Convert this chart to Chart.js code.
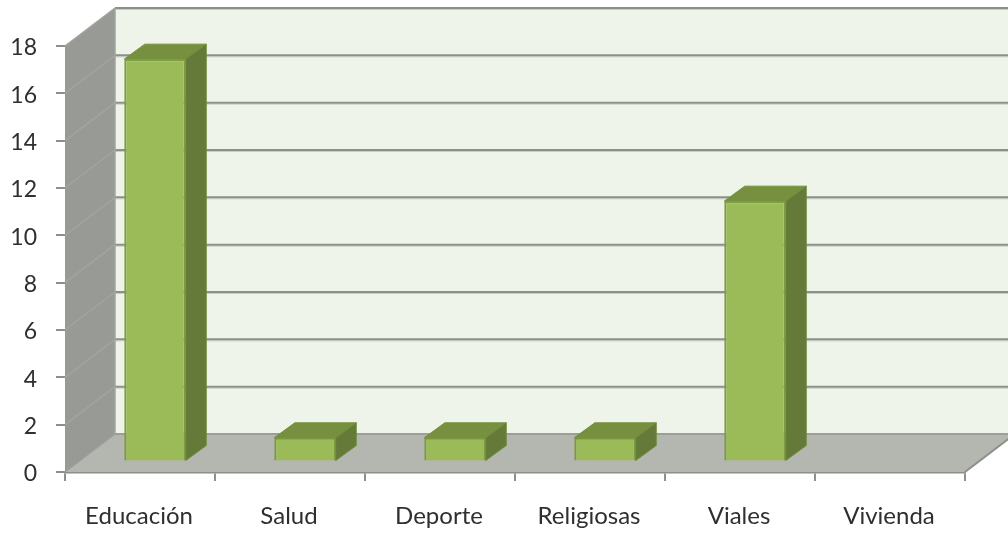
<!DOCTYPE html>
<html>
<head>
<meta charset="utf-8">
<script src="https://cdn.jsdelivr.net/npm/chart.js@4/dist/chart.umd.min.js"></script>
<style>
  html, body { margin: 0; padding: 0; background: #fff; overflow: hidden; }
  canvas { display: block; }
</style>
</head>
<body>
<canvas id="chart" width="1008" height="534"></canvas>
<script>
const categories = ["Educación", "Salud", "Deporte", "Religiosas", "Viales", "Vivienda"];
const values = [17, 1, 1, 1, 11, 0];
const tickValues = [0, 2, 4, 6, 8, 10, 12, 14, 16, 18];

const AXIS_GRAY = "#8d8f8b";

// 3d look: how far the back wall sits from the front axes,
// where the bars stand on the floor and how deep they are
const WALL_DX = 50, WALL_DY = -38;
const BAR_DX = 15, BAR_DY = -10.5;
const DEPTH_DX = 20.5, DEPTH_DY = -15;

function poly(ctx, points, fill, stroke, lineWidth) {
  ctx.beginPath();
  points.forEach((p, i) => i ? ctx.lineTo(p[0], p[1]) : ctx.moveTo(p[0], p[1]));
  ctx.closePath();
  ctx.fillStyle = fill;
  ctx.fill();
  if (stroke) {
    ctx.strokeStyle = stroke;
    ctx.lineWidth = lineWidth || 1;
    ctx.stroke();
  }
}

function line(ctx, x1, y1, x2, y2, color, width) {
  ctx.beginPath();
  ctx.moveTo(x1, y1);
  ctx.lineTo(x2, y2);
  ctx.strokeStyle = color;
  ctx.lineWidth = width;
  ctx.stroke();
}

const box3d = {
  id: "box3d",
  beforeDatasetsDraw(chart) {
    const { ctx, scales: { x, y } } = chart;
    const left = x.left, right = x.right;
    const top = y.getPixelForValue(18), bottom = y.getPixelForValue(0);

    ctx.save();
    // back wall
    poly(ctx, [[left + WALL_DX, top + WALL_DY], [right + WALL_DX, top + WALL_DY],
               [right + WALL_DX, bottom + WALL_DY], [left + WALL_DX, bottom + WALL_DY]], "#eef4ea");
    // side wall
    poly(ctx, [[left, top], [left + WALL_DX, top + WALL_DY],
               [left + WALL_DX, bottom + WALL_DY], [left, bottom]], "#989a95");
    // floor
    poly(ctx, [[left, bottom], [right, bottom],
               [right + WALL_DX, bottom + WALL_DY], [left + WALL_DX, bottom + WALL_DY]], "#b4b6b0");

    // grid lines go round the side wall and along the back
    tickValues.forEach(v => {
      const py = y.getPixelForValue(v);
      line(ctx, left, py, left + WALL_DX, py + WALL_DY, v === 0 ? "#9c9e99" : "#a2a49f", 1.5);
      if (v > 0) line(ctx, left + WALL_DX, py + WALL_DY + 1.5, right + WALL_DX, py + WALL_DY + 1.5, "#c9cbc6", 1);
      line(ctx, left + WALL_DX, py + WALL_DY, right + WALL_DX, py + WALL_DY, v === 0 ? "#9c9e99" : AXIS_GRAY, 2);
    });
    line(ctx, left + WALL_DX, top + WALL_DY, left + WALL_DX, bottom + WALL_DY, "#a2a49f", 1.5);
    line(ctx, right, bottom, right + WALL_DX, bottom + WALL_DY, AXIS_GRAY, 2);
    ctx.restore();

    // the library draws the bars shifted onto the floor
    ctx.save();
    ctx.translate(BAR_DX, BAR_DY);
  },
  afterDatasetsDraw(chart) {
    const { ctx } = chart;
    // sides and tops of the bars, still in the shifted coordinates
    chart.getDatasetMeta(0).data.forEach((bar, i) => {
      if (!values[i]) return;
      const x1 = bar.x - bar.width / 2, x2 = bar.x + bar.width / 2;
      const yTop = bar.y, yBase = bar.base;
      poly(ctx, [[x1, yTop], [x2, yTop], [x2 + DEPTH_DX, yTop + DEPTH_DY], [x1 + DEPTH_DX, yTop + DEPTH_DY]],
        "#77903f", "#72903a", 1);
      poly(ctx, [[x2, yTop], [x2 + DEPTH_DX, yTop + DEPTH_DY], [x2 + DEPTH_DX, yBase + DEPTH_DY], [x2, yBase]],
        "#657a38", "#6f8c3a", 1);
    });
    ctx.restore();
  }
};

new Chart(document.getElementById("chart"), {
  type: "bar",
  data: {
    labels: categories,
    datasets: [{
      data: values,
      backgroundColor: "#9bbb59",
      borderColor: "#7c9c44",
      borderWidth: 2,
      barPercentage: 0.41,
      categoryPercentage: 1,
      clip: false
    }]
  },
  options: {
    responsive: false,
    animation: false,
    layout: { padding: { top: 46, right: 43, left: 0, bottom: 0 } },
    plugins: { legend: { display: false }, tooltip: { enabled: false } },
    scales: {
      x: {
        afterFit: scale => { scale.height = 62; },
        border: { color: AXIS_GRAY, width: 2.5 },
        grid: { drawOnChartArea: false, drawTicks: true, tickLength: 9, color: AXIS_GRAY, lineWidth: 2, offset: true },
        ticks: {
          padding: 21,
          labelOffset: -1,
          maxRotation: 0,
          autoSkip: false,
          color: "#2f2f2f",
          font: { family: "Lato", size: 24 }
        }
      },
      y: {
        min: 0,
        max: 18,
        afterFit: scale => { scale.width = 65; },
        afterBuildTicks: scale => { scale.ticks = tickValues.map(v => ({ value: v })); },
        border: { display: false },
        grid: { drawOnChartArea: false, drawTicks: true, tickLength: 9, color: AXIS_GRAY, lineWidth: 2 },
        ticks: {
          padding: 19,
          labelOffset: 2,
          color: "#2f2f2f",
          font: { family: "Lato", size: 23 }
        }
      }
    }
  },
  plugins: [box3d]
});
</script>
</body>
</html>
